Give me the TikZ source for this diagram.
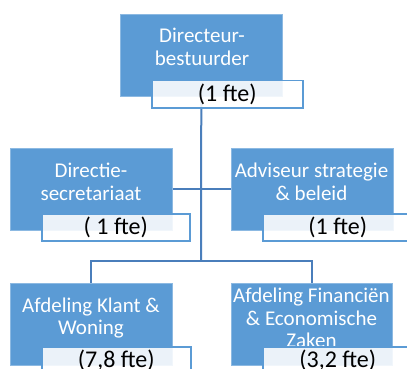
\documentclass[tikz,border=0pt]{standalone}
\usepackage{fontspec}
\setmainfont{Carlito}
\definecolor{boxblue}{HTML}{5B9BD5}
\definecolor{lineblue}{HTML}{4A7EBB}
\definecolor{edgeblue}{HTML}{5B9BD5}
\tikzset{
  bluebox/.style={fill=boxblue, draw=boxblue!70!white, line width=0.6pt, minimum width=162pt, minimum height=82pt, anchor=north west, inner sep=0pt},
  bluetext/.style={text=white, align=center, font=\fontsize{21}{22.5}\selectfont, inner sep=0pt},
  labelbox/.style={fill=white, fill opacity=0.88, text opacity=1, draw=edgeblue, line width=1.5pt, minimum width=150pt, minimum height=27pt, anchor=north west, inner sep=0pt, text=black, font=\fontsize{24}{26}\selectfont},
  conn/.style={draw=lineblue, line width=2pt}
}
\begin{document}
\begin{tikzpicture}[x=1pt,y=-1pt]
\useasboundingbox (0,0) rectangle (407,369);
\clip (0,0) rectangle (407,369);
\fill[white] (0,0) rectangle (407,369);
% boxes
\node[bluebox] (dir) at (120,14) {};
\node[bluebox] (sec) at (10,148) {};
\node[bluebox] (adv) at (231,148) {};
\node[bluebox] (kw) at (10,283) {};
\node[bluebox, minimum width=161pt] (fin) at (231,283) {};
% connectors
\coordinate (j1) at (201,189);
\coordinate (j2) at (201,261);
\draw[conn] (dir.south) -- (j2);
\draw[conn] (sec.east) -- (adv.west);
\draw[conn] (kw.north) |- (j2) -| (fin.north);
% redraw boxes over connectors
\node[bluebox] at (120,14) {};
\node[bluebox] at (10,148) {};
\node[bluebox] at (231,148) {};
\node[bluebox] at (10,283) {};
\node[bluebox, minimum width=161pt] at (231,283) {};
% box texts
\node[bluetext] (dirt) at (202,47) {Directeur-\\bestuurder};
\node[bluetext] (sect) at (91,182) {Directie-\\secretariaat};
\node[bluetext] (advt) at (311.5,182) {Adviseur strategie\\\&~beleid};
\node[bluetext] (kwt) at (91,318) {Afdeling Klant \&\\Woning};
\node[bluetext] (fint) at (311.5,318) {Afdeling Financiën\\\&~Economische\\Zaken};
% label boxes
\node[labelbox, minimum width=151pt] (dirl) at (151,80) {(1 fte)};
\node[labelbox, minimum width=148pt] (secl) at (41,213) {( 1 fte)};
\node[labelbox] (advl) at (262,213) {(1 fte)};
\node[labelbox, minimum width=149pt] (kwl) at (41,346) {(7,8 fte)};
\node[labelbox] (finl) at (262,346) {(3,2 fte)};
\end{tikzpicture}
\end{document}
